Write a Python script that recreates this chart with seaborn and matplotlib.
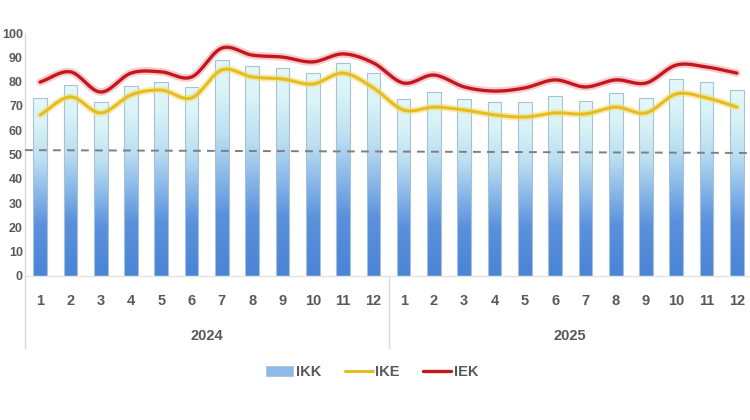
import numpy as np
import pandas as pd
import matplotlib
matplotlib.use("Agg")
import matplotlib.pyplot as plt
import matplotlib.transforms as mtransforms
from matplotlib.colors import LinearSegmentedColormap
from matplotlib.lines import Line2D
from matplotlib.patches import Patch
import seaborn as sns

# ---------------- data ----------------
years = ["2024", "2025"]
months = ["1", "2", "3", "4", "5", "6", "7", "8", "9", "10", "11", "12"]
ikk = [73.3, 78.6, 71.6, 78.2, 79.8, 77.8, 88.9, 86.4, 85.6, 83.5, 87.7, 83.5,
       72.8, 75.7, 72.8, 71.6, 71.6, 74.1, 72.0, 75.3, 73.3, 81.1, 79.8, 76.5]
ike = [66.3, 73.7, 67.1, 74.5, 76.5, 73.3, 84.8, 81.9, 81.1, 79.0, 83.5, 77.4,
       68.3, 69.5, 68.3, 66.3, 65.4, 67.1, 66.7, 69.5, 67.1, 74.9, 73.3, 69.5]
iek = [79.8, 84.0, 75.7, 83.5, 84.0, 81.9, 93.8, 90.9, 90.1, 88.1, 91.4, 87.7,
       79.4, 82.7, 77.8, 76.1, 77.4, 80.7, 77.8, 80.7, 79.4, 86.8, 86.0, 83.5]
ref_line = [51.8, 50.6]           # dashed reference line (start, end)
y_ticks = [0, 10, 20, 30, 40, 50, 60, 70, 80, 90, 100]
series_names = ["IKK", "IKE", "IEK"]

# ---------------- style ----------------
sns.set_theme(style="white")
plt.rcParams['font.family'] = ['Liberation Sans', 'DejaVu Sans']
TXT = "#595959"

fig = plt.figure(figsize=(7.5, 4.2), dpi=100)
ax = fig.add_axes([25 / 750, 1 - 276 / 420, 727 / 750, 243 / 420])

n = len(ikk)
df = pd.DataFrame({"pos": np.arange(n), "IKK": ikk, "IKE": ike, "IEK": iek})

sns.barplot(data=df, x="pos", y="IKK", ax=ax, width=0.45, color="#8DB9EC",
            edgecolor="#A9C2D3", linewidth=0.8, zorder=2)

# gradient fill for bars
cmap = LinearSegmentedColormap.from_list(
    "bargrad",
    [(0.0, "#4A84D6"), (0.28, "#5A91DC"), (0.45, "#86B5E8"),
     (0.65, "#BCDFF2"), (0.85, "#D9F3F6"), (1.0, "#E4F9F9")])
grad = np.linspace(0, 1, 256).reshape(-1, 1)
for p in list(ax.patches):
    x0, y0 = p.get_x(), p.get_y()
    w, h = p.get_width(), p.get_height()
    im = ax.imshow(grad, extent=[x0, x0 + w, y0, y0 + h], origin="lower",
                   aspect="auto", cmap=cmap, zorder=1.9, interpolation="bicubic")
    im.set_clip_path(p)
    p.set_facecolor("none")


def smooth(xs, ys, k=16):
    xs = np.asarray(xs, float)
    ys = np.asarray(ys, float)
    P = np.column_stack([xs, ys])
    P = np.vstack([2 * P[0] - P[1], P, 2 * P[-1] - P[-2]])
    out = []
    t = np.linspace(0, 1, k, endpoint=False)[:, None]
    for i in range(1, len(P) - 2):
        p0, p1, p2, p3 = P[i - 1], P[i], P[i + 1], P[i + 2]
        seg = 0.5 * ((2 * p1) + (-p0 + p2) * t + (2 * p0 - 5 * p1 + 4 * p2 - p3) * t ** 2
                     + (-p0 + 3 * p1 - 3 * p2 + p3) * t ** 3)
        out.append(seg)
    out.append(P[-2][None, :])
    out = np.vstack(out)
    return out[:, 0], out[:, 1]


sx, sy = smooth(df["pos"], df["IKE"])
sns.lineplot(x=sx, y=sy, ax=ax, color="#F3DC7A", lw=5, alpha=0.55, sort=False, zorder=3)
sns.lineplot(x=sx, y=sy, ax=ax, color="#E5BD1C", lw=2.2, sort=False, zorder=3.1)
sx, sy = smooth(df["pos"], df["IEK"])
sns.lineplot(x=sx, y=sy, ax=ax, color="#EE8E8E", lw=5.5, alpha=0.45, sort=False, zorder=3.2)
sns.lineplot(x=sx, y=sy, ax=ax, color="#C3161F", lw=2.4, sort=False, zorder=3.3)

xmin, xmax = -0.5, n - 0.5
ax.plot([xmin, xmax + 0.5], ref_line, color="#7F7F7F", lw=1.4,
        dashes=(4, 3.2), zorder=4, clip_on=False)

ax.set_xlim(xmin, xmax)
ax.set_ylim(0, 100)
ax.set_yticks(y_ticks)
ax.set_yticklabels([str(v) for v in y_ticks], fontsize=9, fontweight="bold", color=TXT)
ax.set_xticks(np.arange(n))
ax.set_xticklabels(months * 2, fontsize=10.5, fontweight="bold", color=TXT)
ax.tick_params(axis="x", length=0, pad=13)
ax.tick_params(axis="y", length=0, pad=1.5)
ax.set_xlabel("")
ax.set_ylabel("")
ax.grid(False)

for s in ["top", "right"]:
    ax.spines[s].set_visible(False)
ax.spines["left"].set_color("#D9D9D9")
ax.spines["bottom"].set_color("#E3E3E3")
ax.spines["left"].set_linewidth(1)
ax.spines["bottom"].set_linewidth(1)

# year group separators and labels
trans = mtransforms.blended_transform_factory(ax.transData, ax.transAxes)
for xv in [xmin, 11.5, xmax]:
    ax.add_line(Line2D([xv, xv], [0, -72 / 243], transform=trans, color="#D9D9D9",
                       lw=1, clip_on=False))
for i, yr in enumerate(years):
    ax.text(i * 12 + 5.5, -60 / 243, yr, transform=trans, ha="center", va="center",
            fontsize=10.5, fontweight="bold", color=TXT)

handles = [Patch(facecolor="#8DB9EC", edgecolor="#A9C2D3", lw=0.6),
           Line2D([0], [0], color="#E5BD1C", lw=2.2),
           Line2D([0], [0], color="#C3161F", lw=2.4)]
leg = fig.legend(handles, series_names, loc="center",
                 bbox_to_anchor=(372 / 750, 1 - 372 / 420), ncol=3, frameon=False,
                 handlelength=1.9, handletextpad=0.2, columnspacing=1.6,
                 prop={"size": 10.5, "weight": "bold"})
for t in leg.get_texts():
    t.set_color(TXT)

fig.savefig("out.png", dpi=100)
